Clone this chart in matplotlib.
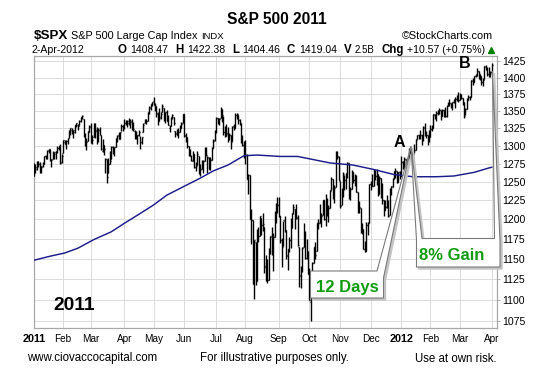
import matplotlib
matplotlib.use('Agg')
import matplotlib.pyplot as plt
from matplotlib.collections import LineCollection
from matplotlib.patches import Polygon
from matplotlib.ticker import FixedLocator, NullLocator, FixedFormatter

plt.rcParams['font.family'] = ['Liberation Sans', 'DejaVu Sans']

# ---------------- data (daily S&P 500, 3-Jan-2011 .. 2-Apr-2012) ----------------
opens = [
    1258,1273,1268,1277,1275,1270,1272,1276,1286,1283,1294,1295,1281,1281,1284,1289,1292,1297,1300,1277,
    1290,1305,1303,1307,1311,1319,1322,1318,1319,1329,1330,1329,1336,1341,1338,1315,1307,1307,1321,
    1328,1305,1313,1331,1322,1311,1322,1316,1293,1301,1281,1281,1262,1274,1282,1298,1293,1298,1311,1315,1310,1321,1328,
    1329,1333,1333,1335,1335,1336,1329,1321,1315,1311,1315,1314,1305,1320,1333,1337,1336,1348,1354,1360,
    1365,1359,1356,1345,1341,1341,1348,1355,1339,1349,1335,1326,1328,1342,1341,1321,1318,1316,1320,1326,1332,
    1345,1314,1313,1300,1287,1285,1279,1288,1271,1273,1285,1265,1268,1269,1279,1295,1286,1283,1268,1280,1297,1308,
    1321,1340,1338,1340,1353,1343,1320,1314,1317,1309,1315,1307,1328,1325,1344,1344,1337,1332,1305,1301,
    1292,1287,1254,1260,1200,1199,1121,1171,1122,1173,1179,1202,1193,1190,1140,1124,1124,1162,1177,1159,1177,1209,1213,
    1219,1204,1174,1166,1198,1186,1153,1162,1173,1189,1209,1214,1204,1203,1164,1128,1136,1164,1175,1151,1160,
    1131,1097,1124,1144,1165,1159,1195,1196,1206,1206,1225,1201,1224,1209,1215,1239,1254,1229,1243,1284,1284,
    1251,1219,1238,1260,1253,1262,1276,1230,1240,1263,1252,1257,1236,1216,1215,1193,1187,1162,1159,1193,1196,
    1247,1246,1245,1257,1258,1261,1234,1255,1237,1226,1212,1216,1220,1206,1241,1243,1254,1265,1265,1250,1263,
    1258,1277,1277,1281,1278,1281,1292,1292,1294,1290,1294,1309,1315,1316,1316,1315,1327,1318,1316,1314,
    1313,1324,1326,1344,1344,1347,1350,1351,1343,1351,1351,1343,1358,1361,1362,1358,1364,1366,1368,1372,
    1366,1374,1370,1364,1344,1353,1366,1371,1371,1395,1394,1403,1404,1410,1405,1403,1393,1398,1416,1413,1406,1404,
    1408,
]
highs = [
    1276,1275,1278,1278,1277,1272,1277,1286,1287,1294,1296,1295,1281,1292,1291,1292,1300,1300,1302,1288,
    1308,1308,1308,1311,1322,1325,1326,1322,1330,1333,1331,1337,1342,1344,1338,1318,1311,1321,1329,
    1333,1315,1333,1332,1327,1325,1327,1316,1309,1301,1283,1281,1283,1292,1300,1299,1298,1311,1315,1319,1320,1331,1329,
    1338,1337,1337,1340,1339,1339,1334,1322,1321,1316,1322,1314,1313,1332,1338,1338,1349,1358,1361,1364,
    1371,1362,1357,1349,1354,1349,1360,1355,1349,1351,1344,1330,1342,1346,1341,1321,1324,1326,1329,1334,1346,
    1345,1318,1313,1300,1296,1287,1293,1288,1277,1293,1286,1274,1280,1280,1298,1298,1286,1284,1284,1298,1309,1322,
    1342,1340,1340,1356,1353,1343,1328,1331,1327,1318,1315,1328,1331,1347,1347,1344,1339,1332,1316,1307,
    1308,1288,1261,1260,1214,1199,1173,1171,1187,1190,1205,1202,1208,1190,1154,1150,1163,1179,1190,1182,1211,1221,1230,
    1230,1204,1176,1198,1204,1186,1162,1177,1202,1209,1220,1214,1220,1206,1164,1141,1164,1195,1185,1175,1160,
    1138,1125,1146,1165,1171,1195,1200,1220,1208,1225,1225,1233,1228,1219,1239,1256,1254,1246,1292,1293,1285,
    1251,1242,1263,1260,1262,1277,1276,1243,1266,1264,1261,1260,1237,1224,1215,1196,1187,1172,1197,1197,1247,
    1251,1261,1267,1266,1268,1261,1258,1255,1249,1226,1226,1232,1225,1242,1245,1255,1265,1269,1265,1264,1265,
    1285,1279,1284,1282,1282,1297,1294,1296,1294,1303,1309,1315,1316,1322,1316,1328,1333,1321,1316,1322,
    1330,1330,1346,1345,1350,1351,1355,1351,1353,1352,1356,1359,1364,1368,1362,1364,1368,1371,1373,1378,
    1376,1375,1370,1364,1355,1369,1374,1372,1396,1399,1403,1406,1414,1410,1405,1403,1399,1417,1420,1416,1416,1410,
    1422,
]
lows = [
    1258,1262,1266,1270,1262,1262,1270,1275,1281,1281,1290,1279,1271,1281,1281,1281,1290,1294,1275,1276,
    1290,1302,1295,1302,1311,1316,1317,1311,1318,1327,1323,1329,1334,1338,1312,1299,1294,1307,1320,
    1304,1303,1313,1311,1303,1306,1316,1294,1291,1287,1262,1249,1262,1274,1282,1289,1285,1298,1306,1310,1310,1321,1321,
    1324,1329,1327,1330,1326,1322,1321,1310,1309,1302,1314,1295,1303,1320,1332,1331,1336,1345,1352,1357,
    1359,1350,1341,1330,1336,1338,1348,1336,1333,1335,1329,1319,1328,1338,1330,1312,1316,1311,1319,1326,1332,
    1313,1306,1297,1285,1285,1278,1278,1269,1265,1273,1261,1258,1267,1262,1279,1286,1262,1267,1266,1280,1297,1307,
    1318,1331,1330,1340,1334,1316,1313,1314,1306,1308,1295,1307,1322,1325,1339,1331,1329,1304,1299,1283,
    1275,1254,1234,1200,1168,1119,1101,1118,1122,1171,1179,1180,1185,1132,1122,1120,1124,1156,1155,1135,1177,1195,1209,
    1203,1170,1140,1166,1184,1150,1136,1158,1163,1189,1207,1188,1201,1166,1115,1114,1134,1164,1150,1149,1131,
    1099,1075,1116,1144,1150,1159,1187,1196,1190,1206,1199,1191,1205,1197,1215,1239,1227,1221,1243,1281,1253,
    1215,1219,1229,1239,1240,1255,1227,1226,1240,1248,1245,1236,1209,1209,1183,1181,1162,1158,1159,1180,1196,
    1239,1244,1245,1253,1246,1231,1234,1228,1220,1205,1212,1215,1203,1206,1232,1243,1254,1255,1249,1250,1254,
    1258,1267,1266,1274,1275,1281,1288,1286,1278,1290,1294,1309,1309,1309,1301,1307,1314,1311,1301,1306,
    1313,1321,1326,1338,1335,1344,1345,1337,1343,1341,1341,1341,1357,1358,1355,1352,1362,1355,1365,1363,
    1366,1368,1359,1340,1344,1353,1366,1366,1371,1389,1394,1401,1403,1398,1396,1388,1387,1398,1411,1403,1401,1401,
    1404,
]
closes = [
    1272,1270,1277,1274,1272,1270,1274,1286,1284,1293,1295,1282,1280,1283,1291,1291,1297,1300,1276,1286,
    1308,1304,1307,1311,1319,1325,1321,1322,1329,1332,1328,1336,1340,1343,1315,1307,1306,1320,1327,
    1306,1308,1331,1321,1310,1322,1320,1295,1304,1296,1282,1257,1274,1279,1298,1294,1298,1310,1314,1310,1319,1328,1326,
    1332,1333,1333,1336,1334,1328,1324,1314,1314,1315,1320,1305,1313,1330,1337,1335,1347,1356,1360,1364,
    1361,1357,1347,1335,1340,1346,1357,1342,1349,1338,1329,1329,1341,1344,1333,1317,1316,1320,1326,1331,1345,
    1315,1313,1300,1286,1285,1280,1289,1271,1272,1288,1265,1268,1272,1278,1296,1287,1284,1268,1280,1297,1307,1321,
    1340,1338,1339,1353,1344,1319,1314,1318,1309,1316,1305,1327,1326,1344,1345,1337,1332,1305,1301,1292,
    1287,1254,1260,1200,1199,1119,1173,1121,1173,1179,1204,1193,1194,1141,1124,1124,1162,1178,1159,1177,1210,1213,1219,
    1204,1174,1165,1199,1186,1154,1162,1173,1189,1209,1216,1204,1202,1167,1130,1136,1163,1175,1151,1160,1131,
    1099,1124,1144,1165,1155,1195,1196,1207,1204,1225,1201,1225,1210,1215,1238,1254,1229,1242,1285,1285,1253,
    1218,1238,1261,1253,1261,1276,1229,1240,1264,1252,1258,1237,1216,1216,1193,1188,1162,1159,1193,1195,1247,
    1245,1244,1257,1258,1261,1234,1255,1236,1226,1212,1216,1220,1205,1241,1244,1254,1265,1265,1250,1263,1258,
    1277,1277,1281,1278,1281,1292,1292,1296,1289,1294,1308,1315,1315,1316,1315,1326,1318,1316,1313,1312,
    1324,1326,1345,1344,1347,1350,1352,1343,1352,1351,1343,1358,1361,1362,1358,1363,1366,1368,1372,1366,
    1374,1370,1364,1343,1353,1366,1371,1371,1396,1394,1403,1404,1410,1406,1403,1393,1397,1417,1413,1406,1403,1408,
    1419,
]
# 200-day moving average (trading-day index, value)
ma_idx = [0, 11, 21, 30, 41, 53, 62, 73, 82, 91, 103, 114, 123, 133, 144, 153, 169, 181,
          203, 219, 233, 247, 260, 276, 288, 302, 312, 314]
ma_val = [1148, 1153, 1157, 1163, 1174, 1184, 1195, 1208, 1219, 1232, 1244, 1255, 1265, 1273,
          1286, 1287, 1285, 1285, 1276, 1273, 1267, 1260, 1257, 1257, 1258, 1263, 1269, 1270]

month_idx = [0, 20, 39, 62, 82, 103, 125, 145, 168, 189, 210, 231, 252, 272, 292, 314]
month_labels = ['2011', 'Feb', 'Mar', 'Apr', 'May', 'Jun', 'Jul', 'Aug', 'Sep', 'Oct',
                'Nov', 'Dec', '2012', 'Feb', 'Mar', 'Apr']
yticks = [1075, 1100, 1125, 1150, 1175, 1200, 1225, 1250, 1275, 1300, 1325, 1350,
          1375, 1400, 1425]

# ---------------- figure ----------------
W, H = 557, 370
fig = plt.figure(figsize=(W / 100, H / 100), dpi=100)
fig.patch.set_facecolor('white')

L_, R_, T_, B_ = 34, 496.5, 56, 328
ax = fig.add_axes([L_ / W, 1 - B_ / H, (R_ - L_) / W, (B_ - T_) / H])
ax.set_yscale('log')
ax.set_ylim(1066.5, 1433.2)
ax.set_xlim(0.0, 317.3)

grid_c = '#dcdcdc'
frame_c = '#a8a8a8'
for s in ax.spines.values():
    s.set_color(frame_c)
    s.set_linewidth(0.9)

ax.yaxis.set_major_locator(FixedLocator(yticks))
ax.yaxis.set_minor_locator(NullLocator())
ax.yaxis.set_major_formatter(FixedFormatter([str(v) for v in yticks]))
ax.yaxis.tick_right()
ax.tick_params(axis='y', which='major', length=2.5, width=0.6, color=frame_c,
               labelsize=7.6, pad=1.5, labelcolor='black')
ax.set_xticks(month_idx)
ax.set_xticklabels(month_labels)
ax.tick_params(axis='x', length=0, labelsize=7.2, pad=4.0, labelcolor='black')
for lab in ax.get_xticklabels():
    if lab.get_text() in ('2011', '2012'):
        lab.set_fontweight('bold')
        lab.set_fontsize(7.8)
ax.grid(True, color=grid_c, linewidth=0.7)
ax.set_axisbelow(True)

# OHLC bars
segs = []
tk = 0.62
for i in range(len(closes)):
    segs.append([(i, lows[i]), (i, highs[i])])
    segs.append([(i - tk, opens[i]), (i, opens[i])])
    segs.append([(i, closes[i]), (i + tk, closes[i])])
ax.add_collection(LineCollection(segs, colors='black', linewidths=1.0, zorder=3))

# 200-day MA
ax.plot(ma_idx, ma_val, color='#1c1c8c', linewidth=1.05, zorder=4)

# ---------------- overlay in pixel coordinates ----------------
ov = fig.add_axes([0, 0, 1, 1])
ov.set_xlim(0, W)
ov.set_ylim(H, 0)
ov.axis('off')
ov.patch.set_alpha(0)


def callout(pts, dx=2.0, dy=2.0):
    sh = [(x + dx, y + dy) for x, y in pts]
    ov.add_patch(Polygon(sh, closed=True, facecolor='#c4c4c4', edgecolor='#c4c4c4',
                         linewidth=1.0, zorder=5))
    ov.add_patch(Polygon(pts, closed=True, facecolor='white', edgecolor='#7a7a7a',
                         linewidth=0.8, zorder=6))


apexA = (411, 146)
apexB = (492.5, 71)
callout([(310.5, 271), (377, 271), apexA, (383.5, 278), (383.5, 298), (310.5, 298)])
callout([(416.5, 240), apexA, (422, 238.5), (494.5, 238.5), apexB, (500, 241),
         (500, 267), (416.5, 267)])

green = '#129c12'
ov.text(347, 291.7, '12 Days', color=green, fontsize=12, fontweight='bold',
        ha='center', va='baseline', zorder=7)
ov.text(451.5, 260, '8% Gain', color=green, fontsize=12, fontweight='bold',
        ha='center', va='baseline', zorder=7)
ov.text(74.5, 310, '2011', color='black', fontsize=13.8, fontweight='bold',
        ha='center', va='baseline', zorder=7)
ov.text(399.5, 146.7, 'A', color='black', fontsize=11.5, fontweight='bold',
        ha='center', va='baseline', zorder=7)
ov.text(464.2, 68.3, 'B', color='black', fontsize=11.5, fontweight='bold',
        ha='center', va='baseline', zorder=7)

# title
ov.text(277, 24.3, 'S&P 500 2011', fontsize=11.2, fontweight='bold', ha='center',
        va='baseline')

fig.canvas.draw()
rend = fig.canvas.get_renderer()


def seq(x, y, parts, end=None):
    made = []
    for txt, size, weight, gap in parts:
        t = ov.text(x, y, txt, fontsize=size, fontweight=weight, ha='left', va='baseline')
        w = t.get_window_extent(rend).width
        made.append((t, w, gap))
        x += w + gap
    if end is not None and len(made) > 1:
        natural = x - made[-1][2]
        extra = (end - natural) / (len(made) - 1)
        xx = made[0][0].get_position()[0]
        for t, w, gap in made:
            t.set_x(xx)
            xx += w + gap + extra
        x = end + made[-1][2]
    return x


# header row 1
seq(34, 39.3, [('$SPX', 9.6, 'bold', 3.0), ('S&P 500 Large Cap Index', 7.8, 'normal', 3.0),
               ('INDX', 6.8, 'normal', 0)])
ov.text(493, 39.3, '\u00a9StockCharts.com', fontsize=7.8, ha='right', va='baseline')

# header row 2
ov.text(31, 53, '2-Apr-2012', fontsize=7.6, ha='left', va='baseline')
xe = seq(118, 53, [('O', 8.3, 'bold', 2.0), ('1408.47', 7.6, 'normal', 5.5),
                   ('H', 8.3, 'bold', 2.0), ('1422.38', 7.6, 'normal', 5.5),
                   ('L', 8.3, 'bold', 2.0), ('1404.46', 7.6, 'normal', 5.5),
                   ('C', 8.3, 'bold', 2.0), ('1419.04', 7.6, 'normal', 5.5),
                   ('V', 8.3, 'bold', 2.0), ('2.5B', 7.0, 'normal', 5.5),
                   ('Chg', 8.3, 'bold', 2.0), ('+10.57 (+0.75%)', 7.6, 'normal', 2.0)],
         end=485)
ov.plot([xe + 3.5], [50], marker='^', color='#008000', markersize=4.2, linestyle='none')

# footer
ov.text(27, 361.5, 'www.ciovaccocapital.com', fontsize=8.3, ha='left', va='baseline')
ov.text(274.5, 361.5, 'For illustrative purposes only.', fontsize=8.3, ha='center',
        va='baseline')
ov.text(497, 361.5, 'Use at own risk.', fontsize=8.3, ha='right', va='baseline')

fig.savefig('out.png', dpi=100)
